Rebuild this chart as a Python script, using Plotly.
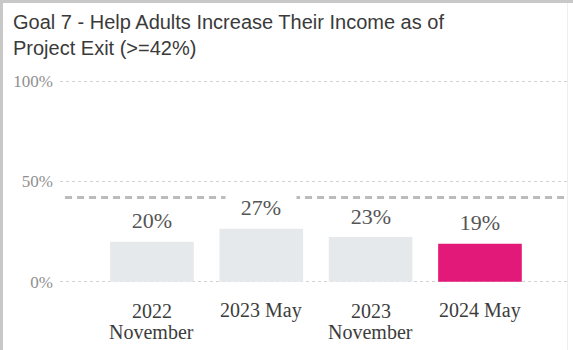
import plotly.graph_objects as go

categories = ["2022 November", "2023 May", "2023 November", "2024 May"]
tick_lines = [["2022", "November"], ["2023 May"], ["2023", "November"], ["2024 May"]]
values = [20.0, 26.5, 22.3, 19.0]
value_labels = ["20%", "27%", "23%", "19%"]
bar_colors = ["#E6E9EC", "#E6E9EC", "#E6E9EC", "#E3197A"]
target = 42
y_ticks = [0, 50, 100]
y_tick_text = ["0%", "50%", "100%"]
title_lines = ["Goal 7 - Help Adults Increase Their Income as of", "Project Exit (>=42%)"]

W, H = 573, 350
L, R, T, B = 60, 5, 80, 67
PW = W - L - R
PH = H - T - B


def px_x(p):
    return (p - L) / PW


def px_y(p):
    return 1 - (p - T) / PH


fig = go.Figure()
fig.add_trace(go.Bar(
    x=categories, y=values, marker=dict(color=bar_colors, line=dict(width=0)),
    width=0.765, hoverinfo="skip", showlegend=False,
))

# target dashed line
fig.add_shape(type="line", xref="paper", yref="y", x0=0.01, x1=1, y0=target, y1=target,
              line=dict(color="#BBBBBB", width=3, dash="7px,5px"), layer="above")

# value labels
for c, v, t in zip(categories, values, value_labels):
    fig.add_annotation(x=c, y=v, xref="x", yref="y", text=t, showarrow=False,
                       yanchor="middle", yshift=21, width=68, bgcolor="white",
                       font=dict(family="Liberation Serif", size=22, color="#555555"))

# category labels
for c, lines in zip(categories, tick_lines):
    for i, ln in enumerate(lines):
        fig.add_annotation(x=c, y=0, xref="x", yref="y", text=ln, showarrow=False,
                           yanchor="middle", yshift=-29 - 21 * i,
                           font=dict(family="Liberation Serif", size=20, color="#3C3C3C"))

# title lines
for i, ln in enumerate(title_lines):
    fig.add_annotation(x=px_x(11), y=px_y(22.5 + 25.5 * i), xref="paper", yref="paper",
                       text=ln, showarrow=False, xanchor="left", yanchor="middle",
                       font=dict(family="Liberation Sans, Arial, sans-serif", size=20, color="#3A3A3A"))

# frame borders
fig.add_shape(type="line", xref="paper", yref="paper", x0=px_x(1.5), x1=px_x(1.5),
              y0=px_y(0), y1=px_y(H), line=dict(color="#C8C8C8", width=3), layer="above")
fig.add_shape(type="line", xref="paper", yref="paper", x0=px_x(0), x1=px_x(W),
              y0=px_y(1.5), y1=px_y(1.5), line=dict(color="#C8C8C8", width=3), layer="above")
fig.add_shape(type="line", xref="paper", yref="paper", x0=px_x(567.5), x1=px_x(567.5),
              y0=px_y(3), y1=px_y(H), line=dict(color="#EFEFEF", width=1), layer="above")

fig.update_layout(
    width=W, height=H,
    margin=dict(l=L, r=R, t=T, b=B),
    paper_bgcolor="white", plot_bgcolor="white",
    xaxis=dict(range=[-0.841, 3.805], showticklabels=False, showgrid=False,
               zeroline=False, showline=False, fixedrange=True),
    yaxis=dict(range=[-0.6, 100.6], tickvals=y_ticks, ticktext=y_tick_text,
               showgrid=True, gridcolor="#D2D2D2", griddash="dot", gridwidth=1,
               zeroline=False, showline=False, ticks="", ticklabelstandoff=6,
               tickfont=dict(family="Liberation Serif", size=17, color="#8F8F8F")),
)

fig.write_html("out.html")
